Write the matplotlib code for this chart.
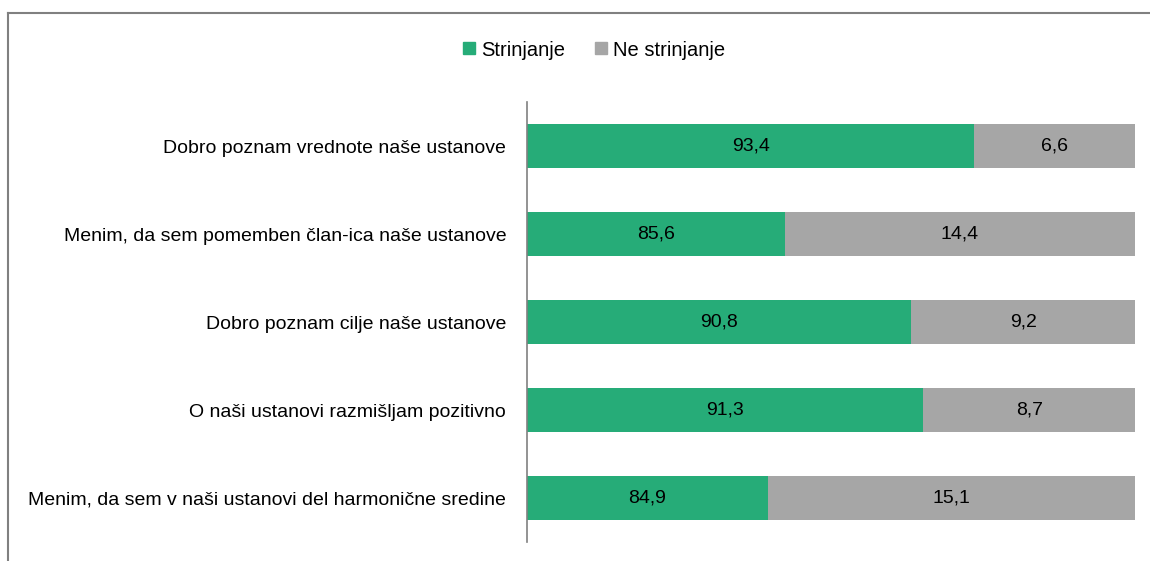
import matplotlib.pyplot as plt
from matplotlib.lines import Line2D

plt.rcParams['font.family'] = ['Liberation Sans', 'DejaVu Sans']

# Data (top to bottom)
statements = [
    "Dobro poznam vrednote naše ustanove",
    "Menim, da sem pomemben član-ica naše ustanove",
    "Dobro poznam cilje naše ustanove",
    "O naši ustanovi razmišljam pozitivno",
    "Menim, da sem v naši ustanovi del harmonične sredine",
]
agree = [93.4, 85.6, 90.8, 91.3, 84.9]
disagree = [6.6, 14.4, 9.2, 8.7, 15.1]
series_names = ["Strinjanje", "Ne strinjanje"]
x_min, x_max = 75, 100

green = '#26AC78'
grey = '#A6A6A6'
fs = 14

fig = plt.figure(figsize=(11.5, 5.61), dpi=100)
ax = fig.add_axes([527 / 1150, 19 / 561, 608 / 1150, 440 / 561])

y = list(range(len(statements)))
ax.barh(y, agree, height=0.5, color=green)
ax.barh(y, disagree, left=agree, height=0.5, color=grey)

for i in y:
    ax.text((x_min + agree[i]) / 2, i, f"{agree[i]:.1f}".replace('.', ','),
            ha='center', va='center', fontsize=fs)
    ax.text(agree[i] + disagree[i] / 2, i, f"{disagree[i]:.1f}".replace('.', ','),
            ha='center', va='center', fontsize=fs)

ax.set_xlim(x_min, x_max)
ax.set_ylim(len(statements) - 0.5, -0.5)
ax.set_yticks(y)
ax.set_yticklabels(statements, fontsize=fs)
ax.tick_params(axis='y', length=0, pad=15)
ax.set_xticks([])
for s in ['top', 'right', 'bottom']:
    ax.spines[s].set_visible(False)
ax.spines['left'].set_color('#808080')
ax.spines['left'].set_linewidth(1.2)

handles = [Line2D([], [], marker='s', linestyle='', markersize=9, color=green),
           Line2D([], [], marker='s', linestyle='', markersize=9, color=grey)]
fig.legend(handles, series_names, loc='center', bbox_to_anchor=(591 / 1150, 1 - 50 / 561),
           ncol=2, frameon=False, fontsize=14.5, handletextpad=0.0, columnspacing=1.2,
           handlelength=1.2)

# outer frame lines (top and left)
fig.add_artist(Line2D([8 / 1150, 1], [1 - 13 / 561, 1 - 13 / 561], color='#808080', lw=1.5))
fig.add_artist(Line2D([8 / 1150, 8 / 1150], [0, 1 - 13 / 561], color='#808080', lw=1.5))

fig.savefig('out.png', dpi=100)
